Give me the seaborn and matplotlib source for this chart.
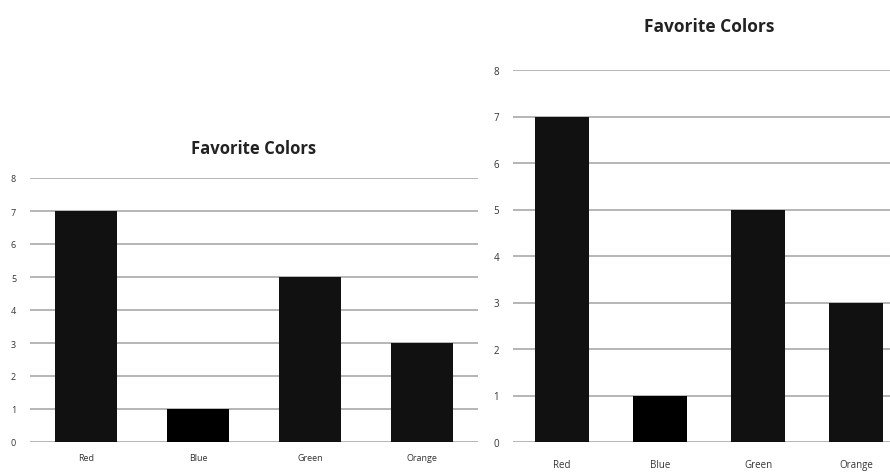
import matplotlib
matplotlib.use('Agg')
import matplotlib.pyplot as plt
import seaborn as sns

# data
colors = ['Red', 'Blue', 'Green', 'Orange']
votes = [7, 1, 5, 3]
yticks = [0, 1, 2, 3, 4, 5, 6, 7, 8]
bar_colors = ['#111111', '#000000', '#111111', '#111111']

sns.set_style('white')
plt.rcParams['font.family'] = ['Open Sans', 'DejaVu Sans']

fig = plt.figure(figsize=(8.9, 4.77), dpi=100)

W, H = 890, 477
ax1 = fig.add_axes([30 / W, 34 / H, 448 / W, 264 / H])
ax2 = fig.add_axes([513 / W, 34 / H, 392 / W, 372 / H])


def draw(ax, title, tsize, lsize, tpad, xpad):
    sns.barplot(x=colors, y=votes, hue=colors, palette=bar_colors,
                width=0.56, legend=False, ax=ax, zorder=3,
                edgecolor='none', linewidth=0)
    ax.set_ylim(0, 8)
    ax.set_yticks(yticks)
    ax.yaxis.grid(True, color='#b0b0b0', linewidth=1.3, zorder=0)
    ax.set_axisbelow(True)
    sns.despine(ax=ax, left=True, bottom=True, top=True, right=True)
    ax.tick_params(length=0, labelsize=lsize, colors='#333333')
    ax.tick_params(axis='y', pad=10)
    ax.tick_params(axis='x', pad=xpad)
    ax.set_title(title, fontsize=tsize, fontweight='bold', pad=tpad,
                 color='#222222')
    ax.set_xlabel('')
    ax.set_ylabel('')


draw(ax1, 'Favorite Colors', 12, 6.5, 18, 8)
draw(ax2, 'Favorite Colors', 12.5, 7, 28, 12)

fig.savefig('out.png', dpi=100)
